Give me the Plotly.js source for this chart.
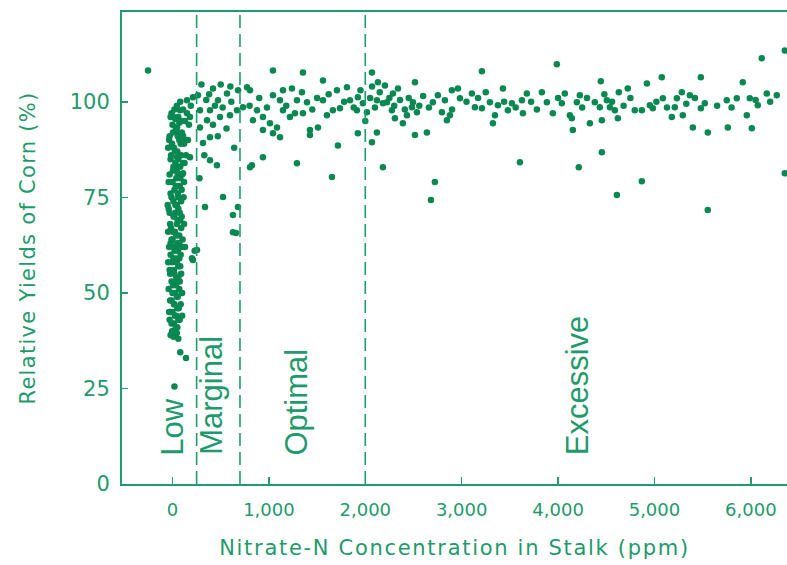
<!DOCTYPE html>
<html><head><meta charset="utf-8">
<script src="https://cdn.plot.ly/plotly-3.0.1.min.js"></script>
<style>
html,body{margin:0;padding:0;background:#fff;}
#chart{width:787px;height:565px;}
.xtitle{letter-spacing:1.7px;}
.ytitle{letter-spacing:1.3px;}
</style></head><body><div id="chart"></div>
<script>
// ---- data: Nitrate-N in stalk (ppm) vs relative corn yield (%) ----
const lowX = [-10,20,45,80,110,150,190,60,130,0,35,95,170,-30,70,120,15,50,160,90,-20,30,140,65,5,100,40,-40,75,20,120,55,-10,90,30,60,-30,10,80,45,-15,25,70,0,50,-35,20,85,35,-5,60,15,-25,40,75,5,-40,30,55,-10,20,65,0,40,-30,15,50,-5,25,10,100,110,-45,80,125,-50,95,105,-45,90,115,100,-20,60,80,140,20,-254,78,181,47,99,130,47,181,26,109,212,150,130,202,212,230,85,30,70,-20,45,10,-5,55,120,75,35,
  -20,30,70,5,55,-35,85,25,-15,60,110,10,45,-30,80,0,35,95,-20,60,10,45,-40,75,20,55,-25,90,5,40,-10,70,25,55,-20,10,45,80,-30,20,60,-10,35,70,0,45,-25,15,50,-35,25,60,-10,35,5,45,-20,100,90,-45];
const lowY = [97,98,99,100,98,100.4,99,96,95,94,93,92,94,91,90,89,88,87,90,86,85,84,86,83,82,81,80,79,78,77,79,76,75,74,73,72,71,70,69,68,67,66,65,64,63,62,61,60,59,58,57,56,55,54,53,52,51,50,49,48,47,46,45,44,43,42,41,40,39,38.5,95,91,88,83,84,73,70,64,58,55,75,50,45,38,34.5,33,25.5,108.2,97.8,96,93.3,91.8,90,85.5,85.5,82.9,81.3,101.2,97,62,59.1,58.6,61,47,71,59,63,92,96,89,81,68,43,53,
  96,95.5,94.5,92,91,90,89,87,86,85,84,83,82,81,80,79,78,77,76,75,74,73,72,71,70,69,68,67,66,65,64,63,62,61,60,59,58,57,56,55,54,53,52,51,50,49,48,47,46,45,44,43,42,41,40,39.5,39,44,62,66];

const marginalX = [264,420,565,472,285,389,358,493,596,669,285,389,316,389,461,524,337,627,254,679,627,658,300,350,440,520,610,560,470,640,330,280,420,680,500,380,600];
const marginalY = [101.7,103.5,102.2,100.4,97.8,97.8,95.2,96,96.5,97.8,93.3,90.7,89.2,84.7,83.4,75.1,72.5,65.9,61.2,72.5,70.4,65.7,104.5,100.5,99,98.5,100,93,91,88,86,80,94,103,104.5,102,104];

const optimalX = [731,876,938,835,1011,1084,938,1146,1218,1353,1426,1509,1426,1115,1042,1664,1602,1737,1841,1913,1923,1716,938,824,1291,1654,1042,1353,1561,773,804,1042,1146,1239,1343,1115,1291,1395,1561,1706,1810,1923,1975,804,800,900,980,1180,1270,1450,1500,1620,1780,1880,1950];
const optimalY = [98.6,97.8,96,95.2,94.4,93.3,92.6,97.8,96,97,92.6,93.3,91.3,90.7,91.8,97.8,96.5,98.3,100.4,97.8,91.8,88.6,85.5,83.4,83.9,80.3,108.2,107.7,105.6,103.8,103,101.7,103,103.5,102.5,100.4,100.4,99.9,100.4,103,103.8,101.2,99.6,82.9,99,101,98.5,99,97,98,101,102,100,98.5,103];

const excessiveX = [2017,2183,2069,2121,2069,2131,2204,2183,2287,2339,2225,2276,2307,2390,2432,2484,2494,2515,2536,2515,2639,2701,2753,2795,2847,2878,2826,2898,2961,2982,3106,3137,3210,3210,3293,3345,3324,3376,3428,3479,3521,3625,3635,3676,3832,3884,3946,3987,4039,4070,4122,4143,4153,4226,4195,4330,4381,4433,4454,4443,4506,4537,4589,4620,4630,4723,4796,4869,4921,4952,4983,5076,5087,5180,5211,5232,5284,5294,5367,5398,5481,5481,5522,5553,5750,5761,5854,5916,5958,5989,6010,6072,6113,6165,6269,6352,2722,2681,3604,4215,4454,4610,4869,5553,6352,2250,2300,2360,2410,2450,2560,2600,2660,2900,3050,3170,3250,3440,3560,3720,3780,4000,4250,4300,4480,4560,4680,4750,5020,5130,5330,5420,5650,5800,6050,6200,2050,2100,2150,2000,2070,2120];
const excessiveY = [97.3,99.6,89.4,100.4,107.7,105.1,104.3,82.9,102.2,103.5,99.9,97.8,95.7,94.4,96.5,98.6,99.9,105.1,97.3,91.3,92,99.9,101.7,97.3,95.2,96.5,100.4,103,103.5,100.9,102.2,98.6,98.3,108,99.9,96.5,94.4,99.1,103.5,97.8,99.6,100.4,97,102.2,102.5,99.9,97,109.8,99.6,102.2,96.5,95.7,92.6,101.7,99.9,94.4,99.9,98.6,95.2,105.4,100.4,98.6,97.8,95.7,102.5,103.5,97.8,97.8,104.8,99.1,98.3,106.4,100.9,96,98.6,100.9,102.5,96.5,101.7,93.3,106.4,98.3,99.6,92,100.4,93.3,100.9,105.1,96.5,100.9,93.1,99.1,111.4,102.2,101.7,113.4,79,74.3,84.2,82.9,86.8,75.6,79.2,71.7,81.3,101,99,100.5,98,101,99,101.5,98.5,98,100,101,102.5,100,98.5,100,98,101,98.5,101,102,100,99,101,100,98.5,99.5,101,99,98.5,100.5,100,101,98.5,102.5,95,104,92];

const zoneBounds = [250, 700, 2000];
const zoneNames = ['Low', 'Marginal', 'Optimal', 'Excessive'];
const xTickVals = [0, 1000, 2000, 3000, 4000, 5000, 6000];
const xTickText = ['0', '1,000', '2,000', '3,000', '4,000', '5,000', '6,000'];
const yTickVals = [0, 25, 50, 75, 100];
const yTickText = ['0', '25', '50', '75', '100'];

// ---- styles ----
const TXT = '#1f9a6c';
const AX = '#1f9c6a';
const DOT = '#0a8852';
const AXFONT = 'DejaVu Sans, Verdana, sans-serif';
const LBLFONT = 'Liberation Sans, Arial, sans-serif';

const allX = lowX.concat(marginalX, optimalX, excessiveX);
const allY = lowY.concat(marginalY, optimalY, excessiveY);

const traces = [{
  type: 'scatter', mode: 'markers', x: allX, y: allY,
  marker: {size: 6.5, color: DOT, line: {width: 0}},
  hoverinfo: 'x+y', cliponaxis: true
}];

const labelX = [5, 410, 1290, 4196];
const annotations = zoneNames.map((n, i) => ({
  x: labelX[i], y: 7, xref: 'x', yref: 'y', text: n, textangle: -90,
  xanchor: 'center', yanchor: 'bottom', showarrow: false,
  font: {family: LBLFONT, size: 31, color: TXT}
}));

const shapes = zoneBounds.map(b => ({
  type: 'line', xref: 'x', yref: 'paper', x0: b, x1: b, y0: 0, y1: 1,
  line: {color: AX, width: 1.6, dash: '13px,6px'}
}));

const layout = {
  width: 787, height: 565,
  margin: {l: 122, r: 0, t: 12, b: 81},
  paper_bgcolor: '#ffffff', plot_bgcolor: '#ffffff',
  showlegend: false,
  xaxis: {
    range: [-524, 6375], tickmode: 'array', tickvals: xTickVals, ticktext: xTickText,
    ticks: 'inside', ticklen: 7, tickwidth: 1.5, tickcolor: AX,
    showline: true, linecolor: AX, linewidth: 2, mirror: true,
    showgrid: false, zeroline: false, automargin: false,
    ticklabelstandoff: 8,
    tickfont: {family: AXFONT, size: 18, color: TXT},
    title: {text: 'Nitrate-N Concentration in Stalk (ppm)', standoff: 22,
            font: {family: AXFONT, size: 21, color: TXT}}
  },
  yaxis: {
    range: [0, 123.5], tickmode: 'array', tickvals: yTickVals, ticktext: yTickText,
    ticks: 'inside', ticklen: 6, tickwidth: 1.5, tickcolor: AX,
    showline: true, linecolor: AX, linewidth: 2, mirror: false,
    showgrid: false, zeroline: false, automargin: false,
    ticklabelstandoff: 6,
    tickfont: {family: AXFONT, size: 21, color: TXT},
    title: {text: 'Relative Yields of Corn (%)', standoff: 28,
            font: {family: AXFONT, size: 21, color: TXT}}
  },
  shapes: shapes,
  annotations: annotations
};

Plotly.newPlot('chart', traces, layout, {displayModeBar: false, staticPlot: true});
</script></body></html>
